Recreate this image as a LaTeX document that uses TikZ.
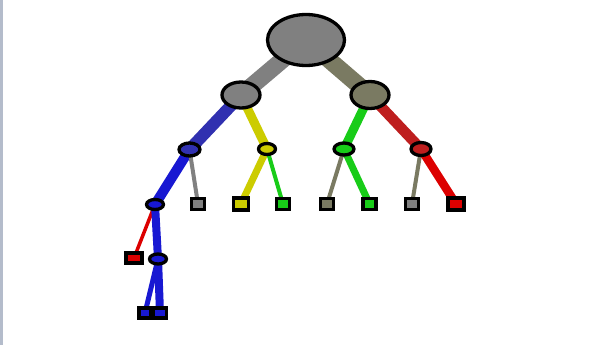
\documentclass[tikz,border=0pt]{standalone}
\usetikzlibrary{shapes.geometric,backgrounds}
\definecolor{cgray}{RGB}{128,128,128}
\definecolor{colive}{RGB}{122,122,98}
\definecolor{cblueA}{RGB}{48,48,176}
\definecolor{cblue}{RGB}{24,24,210}
\definecolor{cyellow}{RGB}{204,204,0}
\definecolor{cgreen}{RGB}{24,204,24}
\definecolor{credA}{RGB}{190,30,30}
\definecolor{cred}{RGB}{220,0,0}
\definecolor{cstrip}{RGB}{180,188,203}
\begin{document}
\begin{tikzpicture}[x=1pt,y=-1pt,
  nd/.style={ellipse,draw=black,line width=3.3pt,inner sep=0pt},
  lf/.style={rectangle,draw=black,line width=3.3pt,inner sep=0pt,minimum width=13pt,minimum height=11pt},
  ed/.style={line cap=butt}]
\useasboundingbox (0,0) rectangle (598,345);
% nodes
\node[nd,fill=cgray,minimum width=77pt,minimum height=51pt] (r) at (306,40) {};
\node[nd,fill=cgray,minimum width=38pt,minimum height=26pt] (a) at (241,95) {};
\node[nd,fill=colive,minimum width=38pt,minimum height=27pt] (b) at (370,95) {};
\node[nd,fill=cblueA,minimum width=21pt,minimum height=13pt] (a1) at (189.5,149.5) {};
\node[nd,fill=cyellow,minimum width=17pt,minimum height=11pt] (a2) at (267,149) {};
\node[nd,fill=cgreen,minimum width=20pt,minimum height=12pt] (b1) at (344,149) {};
\node[nd,fill=credA,minimum width=20pt,minimum height=13pt] (b2) at (421,149) {};
\node[nd,fill=cblue,minimum width=17pt,minimum height=10pt] (c1) at (155,204.5) {};
\node[lf,fill=cgray] (s1) at (198,204) {};
\node[lf,fill=cyellow,minimum width=15pt,minimum height=12pt] (s2) at (241,204) {};
\node[lf,fill=cgreen] (s3) at (283,204) {};
\node[lf,fill=colive] (s4) at (327,204) {};
\node[lf,fill=cgreen] (s5) at (369.5,204) {};
\node[lf,fill=cgray] (s6) at (412,204) {};
\node[lf,fill=cred,minimum width=16pt,minimum height=12pt] (s7) at (456,204) {};
\node[lf,fill=cred,minimum width=16pt,minimum height=10pt] (d1) at (134,258) {};
\node[nd,fill=cblue,minimum width=17pt,minimum height=10pt] (d2) at (158,259) {};
\node[lf,fill=cblue,minimum width=12pt,minimum height=10pt] (e1) at (145,313) {};
\node[lf,fill=cblue,minimum width=13pt,minimum height=10pt] (e2) at (160,313) {};
\begin{scope}[on background layer]
\fill[white] (0,0) rectangle (598,345);
\fill[cstrip] (0,0) rectangle (3,345);
\draw[ed,cgray,line width=17pt] (r.center) -- (a.center);
\draw[ed,colive,line width=17pt] (r.center) -- (b.center);
\draw[ed,cblueA,line width=12pt] (a.center) -- (a1.center);
\draw[ed,cyellow,line width=9pt] (a.center) -- (a2.center);
\draw[ed,cgreen,line width=9pt] (b.center) -- (b1.center);
\draw[ed,credA,line width=10.5pt] (b.center) -- (b2.center);
\draw[ed,cblue,line width=10pt] (a1.center) -- (c1.center);
\draw[ed,cgray,line width=4pt] (a1.center) -- (s1.center);
\draw[ed,cyellow,line width=7pt] (a2.center) -- (s2.center);
\draw[ed,cgreen,line width=4pt] (a2.center) -- (s3.center);
\draw[ed,colive,line width=4pt] (b1.center) -- (s4.center);
\draw[ed,cgreen,line width=7pt] (b1.center) -- (s5.center);
\draw[ed,colive,line width=4pt] (b2.center) -- (s6.center);
\draw[ed,cred,line width=8.5pt] (b2.center) -- (s7.center);
\draw[ed,cred,line width=3.5pt] (c1.center) -- (d1.center);
\draw[ed,cblue,line width=8pt] (c1.center) -- (d2.center);
\draw[ed,cblue,line width=5pt] (d2.center) -- (e1.center);
\draw[ed,cblue,line width=8pt] (d2.center) -- (e2.center);
\end{scope}
\end{tikzpicture}
\end{document}
